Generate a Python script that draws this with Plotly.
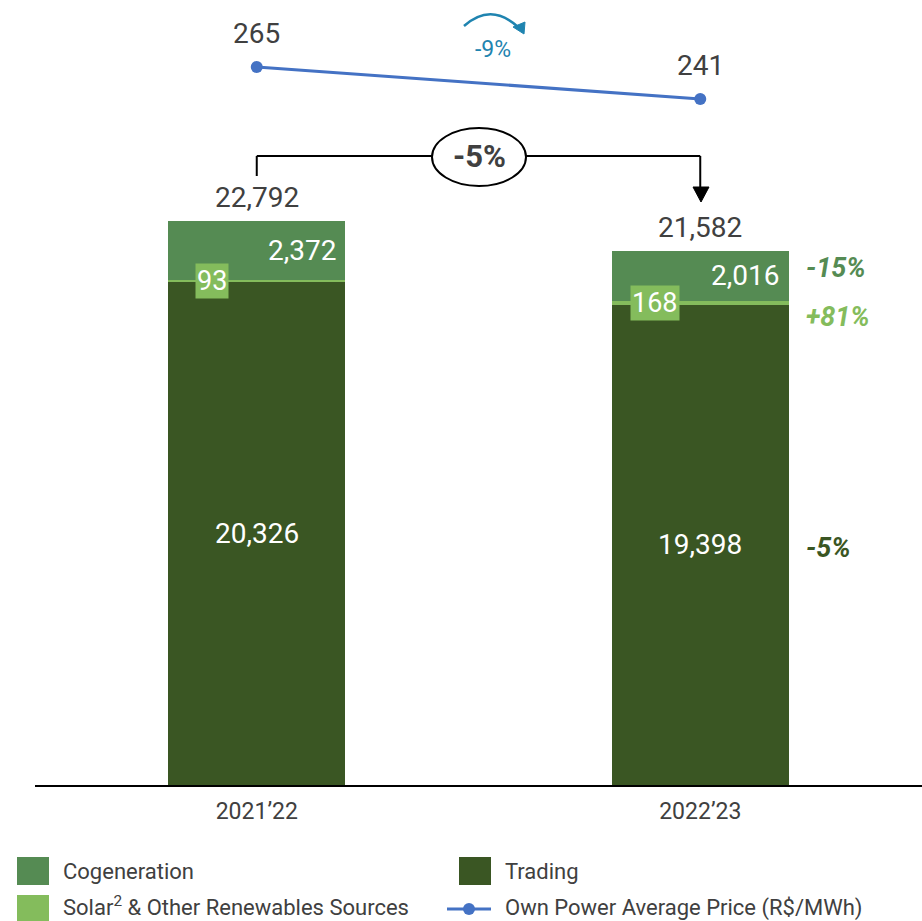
import plotly.graph_objects as go

# ---------------- data ----------------
periods = ["2021’22", "2022’23"]
trading = [20326, 19398]
solar = [93, 168]
cogeneration = [2372, 2016]
totals = [22792, 21582]
price = [265, 241]
price_change_label = "-9%"
total_change_label = "-5%"
segment_change_labels = ["-15%", "+81%", "-5%"]   # cogeneration, solar, trading (2022'23 vs 2021'22)
legend_labels = ["Cogeneration", "Trading", "Solar<sup>2</sup> & Other Renewables Sources",
                 "Own Power Average Price (R$/MWh)"]

# ---------------- styles ----------------
C_COG = "#558b53"
C_TRADING = "#3a5623"
C_SOLAR = "#84bc5c"
C_LINE = "#4472c4"
C_TEXT = "#404040"
C_ARROW = "#1f84b0"
FONT = "Roboto"

W, H = 922, 921
L, R, T, B = 35, 0, 0, 136
PW, PH = W - L - R, H - T - B


def px(xp):
    return (xp - L) / PW


def py(yp):
    return (H - B - yp) / PH


fig = go.Figure()
fig.add_trace(go.Bar(x=periods, y=trading, marker=dict(color=C_TRADING, line=dict(width=0)),
                     width=0.4, name="Trading", showlegend=False))
fig.add_trace(go.Bar(x=periods, y=solar, marker=dict(color=C_SOLAR, line=dict(width=0)),
                     width=0.4, name="Solar", showlegend=False))
fig.add_trace(go.Bar(x=periods, y=cogeneration, marker=dict(color=C_COG, line=dict(width=0)),
                     width=0.4, name="Cogeneration", showlegend=False))
fig.add_trace(go.Scatter(x=periods, y=price, yaxis="y2", mode="lines+markers",
                         line=dict(color=C_LINE, width=3), marker=dict(color=C_LINE, size=12),
                         name="Price", showlegend=False))

ann = []
for i, p in enumerate(periods):
    ann.append(dict(x=p, y=totals[i], xref="x", yref="y", yshift=23, showarrow=False,
                    xanchor="center", yanchor="middle",
                    text=f"{totals[i]:,}", font=dict(size=28, color=C_TEXT, family=FONT)))
    ann.append(dict(x=p, y=trading[i] + solar[i] + cogeneration[i] / 2, xref="x", yref="y",
                    xanchor="right", yanchor="middle", xshift=81, showarrow=False,
                    text=f"{cogeneration[i]:,}", font=dict(size=28, color="white", family=FONT)))
    ann.append(dict(x=p, y=trading[i] + solar[i] / 2, xref="x", yref="y", xshift=-45,
                    xanchor="center", yanchor="middle",
                    showarrow=False, bgcolor=C_SOLAR, borderpad=1,
                    text=f"{solar[i]:,}", font=dict(size=27, color="white", family=FONT)))
    ann.append(dict(x=p, y=trading[i] / 2, xref="x", yref="y", showarrow=False,
                    xanchor="center", yanchor="middle",
                    text=f"{trading[i]:,}", font=dict(size=28, color="white", family=FONT)))
    ann.append(dict(x=p, y=price[i], xref="x", yref="y2", yshift=34, showarrow=False,
                    xanchor="center", yanchor="middle",
                    text=f"{price[i]:,}", font=dict(size=28, color=C_TEXT, family=FONT)))

# segment change labels next to second bar
seg_y = [trading[1] + solar[1] + cogeneration[1] / 2, trading[1] + solar[1] / 2, trading[1] / 2]
seg_shift = [8, -14, -3]
seg_col = [C_COG, C_SOLAR, C_TRADING]
for lab, yv, ys, c in zip(segment_change_labels, seg_y, seg_shift, seg_col):
    ann.append(dict(x=periods[1], y=yv, xref="x", yref="y", xanchor="left", yanchor="middle",
                    xshift=104, yshift=ys,
                    showarrow=False, text=f"<b><i>{lab}</i></b>",
                    font=dict(size=27, color=c, family=FONT)))

# -5% in ellipse, -9% near arrow
ann.append(dict(x=px(479), y=py(157), xref="paper", yref="paper", showarrow=False,
                xanchor="center", yanchor="middle",
                text=f"<b>{total_change_label}</b>", font=dict(size=31, color=C_TEXT, family=FONT)))
ann.append(dict(x=px(493), y=py(50), xref="paper", yref="paper", showarrow=False,
                xanchor="center", yanchor="middle",
                text=price_change_label, font=dict(size=23, color=C_ARROW, family=FONT)))

shapes = []
# bracket
y_br = py(156)
shapes.append(dict(type="line", xref="x", yref="paper", x0=0, x1=0, y0=py(176), y1=y_br,
                   line=dict(color="black", width=2)))
shapes.append(dict(type="line", xref="x", yref="paper", x0=0, x1=1, y0=y_br, y1=y_br,
                   line=dict(color="black", width=2)))
shapes.append(dict(type="line", xref="x", yref="paper", x0=1, x1=1, y0=y_br, y1=py(190),
                   line=dict(color="black", width=2)))
shapes.append(dict(type="path", xref="paper", yref="paper",
                   path=f"M {px(693)} {py(187)} L {px(709)} {py(187)} L {px(701)} {py(202)} Z",
                   fillcolor="black", line=dict(color="black", width=1)))
shapes.append(dict(type="circle", xref="paper", yref="paper", x0=px(432), x1=px(526),
                   y0=py(186), y1=py(128), fillcolor="white", line=dict(color="black", width=2)))
# curved arrow
shapes.append(dict(type="path", xref="paper", yref="paper",
                   path=f"M {px(464)} {py(26)} Q {px(491)} {py(2)} {px(518)} {py(27)}",
                   line=dict(color=C_ARROW, width=2.5)))
shapes.append(dict(type="path", xref="paper", yref="paper",
                   path=f"M {px(513)} {py(27)} L {px(525)} {py(22)} L {px(524)} {py(34)} Z",
                   fillcolor=C_ARROW, line=dict(color=C_ARROW, width=1)))

# manual legend
leg = [
    (17, 871, "rect", C_COG, legend_labels[0], 61, 871),
    (459, 871, "rect", C_TRADING, legend_labels[1], 503, 871),
    (17, 909, "rect", C_SOLAR, legend_labels[2], 61, 906),
    (447, 909, "line", C_LINE, legend_labels[3], 503, 908),
]
for x0, yc, kind, col, lab, tx, ty in leg:
    if kind == "rect":
        shapes.append(dict(type="rect", xref="paper", yref="paper", x0=px(x0), x1=px(x0 + 32),
                           y0=py(yc - 14), y1=py(yc + 14), fillcolor=col, line=dict(width=0)))
    else:
        shapes.append(dict(type="line", xref="paper", yref="paper", x0=px(x0), x1=px(x0 + 44),
                           y0=py(yc), y1=py(yc), line=dict(color=col, width=3)))
        shapes.append(dict(type="circle", xref="paper", yref="paper", x0=px(x0 + 16), x1=px(x0 + 28),
                           y0=py(yc + 6), y1=py(yc - 6), fillcolor=col, line=dict(width=0)))
    ann.append(dict(x=px(tx), y=py(ty), xref="paper", yref="paper", xanchor="left",
                    yanchor="middle",
                    showarrow=False, text=lab, font=dict(size=22, color=C_TEXT, family=FONT)))

fig.update_layout(
    width=W, height=H, margin=dict(l=L, r=R, t=T, b=B),
    paper_bgcolor="white", plot_bgcolor="white",
    barmode="stack", bargap=0, showlegend=False,
    xaxis=dict(range=[-0.5, 1.5], showline=True, linecolor="black", linewidth=2,
               ticks="", showgrid=False, ticklabelstandoff=4,
               tickfont=dict(size=23, color=C_TEXT, family=FONT)),
    yaxis=dict(range=[0, 31720], visible=False, showgrid=False, zeroline=False),
    yaxis2=dict(range=[-273.5, 315.25], overlaying="y", visible=False, showgrid=False,
                zeroline=False),
    annotations=ann, shapes=shapes, hovermode=False,
)

fig.write_html("out.html")
